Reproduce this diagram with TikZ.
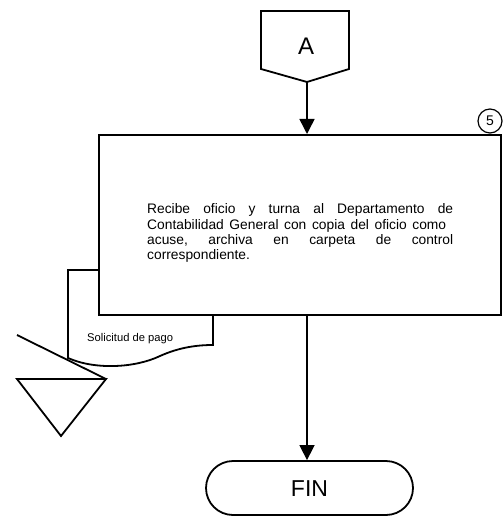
\documentclass[tikz,border=0pt]{standalone}
\usepackage{fontspec}
\setmainfont{Liberation Sans}
\usetikzlibrary{arrows.meta}
\begin{document}
\begin{tikzpicture}[x=1pt,y=-1pt,
  shape line/.style={draw=black, line width=1.8pt, line join=miter},
  arr/.style={draw=black, line width=1.5pt, -{Triangle[length=15pt,width=15pt]}},
  thin line/.style={draw=black, line width=1.8pt}]
\useasboundingbox (0,0) rectangle (502,518);
% off-page connector A
\coordinate (Atl) at (261,11);
\coordinate (Atr) at (349,11);
\coordinate (Abr) at (349,69);
\coordinate (Atip) at (307,82);
\coordinate (Abl) at (261,69);
\draw[shape line] (Atl) -- (Atr) -- (Abr) -- (Atip) -- (Abl) -- cycle;
\node[anchor=base, inner sep=0, font=\fontsize{24}{28}\selectfont] (Alabel) at (306,55) {A};
% document shape (behind the box)
\coordinate (dtl) at (68,270);
\coordinate (dbl) at (68,358);
\coordinate (dbr) at (213,345);
\path[shape line, fill=white] (98,270) -- (dtl) -- (dbl)
  .. controls (95,370) and (135,368) .. (160,356)
  .. controls (180,347) and (198,345) .. (dbr) -- (213,300);
\node[anchor=base west, inner sep=0, font=\fontsize{11.2}{13}\selectfont] (doc) at (87,341) {Solicitud de pago};
% main process box
\node[shape line, fill=white, rectangle, minimum width=402pt, minimum height=180pt, inner sep=0, anchor=north west] (box) at (98,134) {};
\node[anchor=north west, inner sep=0, text width=306pt, align=left, font=\fontsize{13.8}{15.4}\selectfont] (boxtext) at (147,203.5)
{\makebox[306pt][l]{Recibe\hfill oficio\hfill y\hfill turna\hfill al\hfill Departamento\hfill de}\\
 \makebox[306pt][l]{\makebox[299pt][l]{Contabilidad\hfill General\hfill con\hfill copia\hfill del\hfill oficio\hfill como}}\\
 \makebox[306pt][l]{acuse,\hfill archiva\hfill en\hfill carpeta\hfill de\hfill control}\\
 correspondiente.};
% step number
\node[draw=black, line width=1.2pt, circle, minimum size=24pt, inner sep=0, fill=white, font=\fontsize{14}{16}\selectfont] (num) at (490,121) {5};
% archive triangle and diagonal
\coordinate (dg1) at (17,335);
\coordinate (t1) at (17,379);
\coordinate (t2) at (106,379);
\coordinate (t3) at (61,436);
\draw[thin line] (dg1) -- (t2);
\draw[shape line] (t1) -- (t2) -- (t3) -- cycle;
% terminal FIN
\node[shape line, rectangle, rounded corners=27pt, minimum width=207pt, minimum height=54pt, inner sep=0, text height=16.5pt, text depth=-3pt, font=\fontsize{23}{27}\selectfont] (fin) at (309.5,488) {FIN};
% connectors
\draw[arr] (Atip) -- (Atip |- box.north);
\draw[arr] (Atip |- box.south) -- (Atip |- fin.north);
\end{tikzpicture}
\end{document}
